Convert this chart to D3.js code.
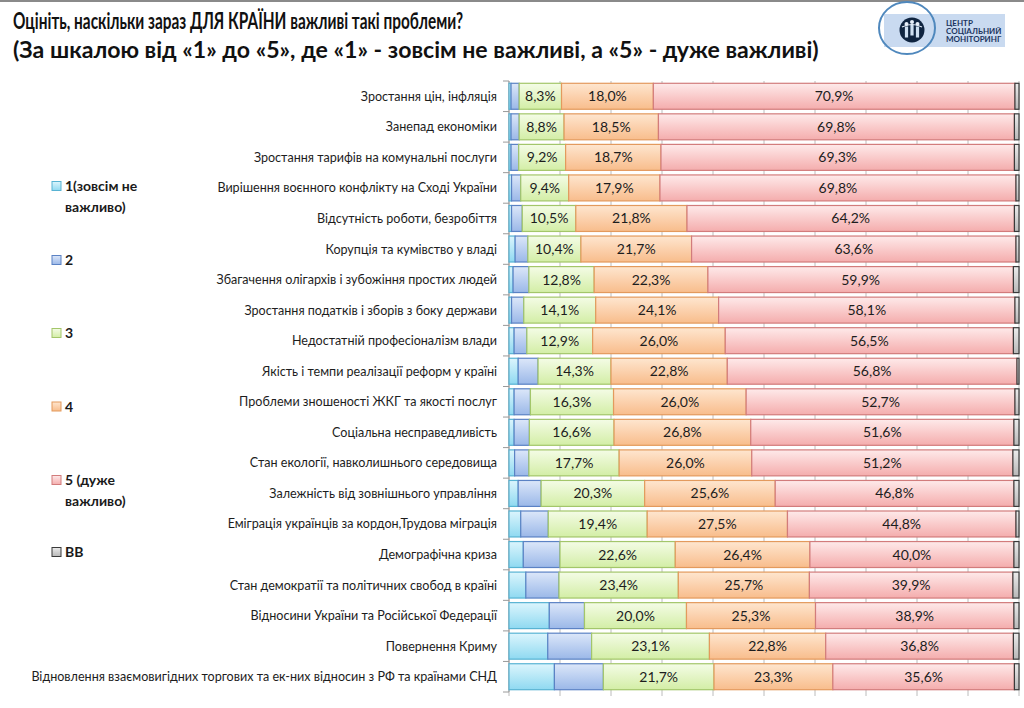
<!DOCTYPE html>
<html><head><meta charset="utf-8">
<script src="https://cdn.jsdelivr.net/npm/d3@7"></script>
<style>body{margin:0;background:#fff}svg{display:block}</style>
</head><body>
<script>
const categories = [
  "Зростання цін, інфляція",
  "Занепад економіки",
  "Зростання тарифів на комунальні послуги",
  "Вирішення воєнного конфлікту на Сході України",
  "Відсутність роботи, безробіття",
  "Корупція та кумівство у владі",
  "Збагачення олігархів і зубожіння простих людей",
  "Зростання податків і зборів з боку держави",
  "Недостатній професіоналізм влади",
  "Якість і темпи реалізації реформ у країні",
  "Проблеми зношеності ЖКГ та якості послуг",
  "Соціальна несправедливість",
  "Стан екології, навколишнього середовища",
  "Залежність від зовнішнього управління",
  "Еміграція українців за кордон,Трудова міграція",
  "Демографічна криза",
  "Стан демократії та політичних свобод в країні",
  "Відносини України та Російської Федерації",
  "Повернення Криму",
  "Відновлення взаємовигідних торгових та ек-них відносин з РФ та країнами СНД"
];
const seriesNames = ["1(зовсім не важливо)", "2", "3", "4", "5 (дуже важливо)", "ВВ"];
const v1 = [0.4,0.4,0.4,0.5,0.5,1.2,0.8,0.5,1.0,1.8,1.0,1.0,1.1,1.8,2.3,2.8,3.3,7.9,7.6,8.9];
const v2 = [1.6,1.6,1.5,1.8,2.1,2.5,3.1,2.4,2.5,3.9,3.2,3.0,2.8,4.5,5.4,7.2,6.5,6.9,8.6,9.6];
const v3 = [8.3,8.8,9.2,9.4,10.5,10.4,12.8,14.1,12.9,14.3,16.3,16.6,17.7,20.3,19.4,22.6,23.4,20.0,23.1,21.7];
const v4 = [18.0,18.5,18.7,17.9,21.8,21.7,22.3,24.1,26.0,22.8,26.0,26.8,26.0,25.6,27.5,26.4,25.7,25.3,22.8,23.3];
const v5 = [70.9,69.8,69.3,69.8,64.2,63.6,59.9,58.1,56.5,56.8,52.7,51.6,51.2,46.8,44.8,40.0,39.9,38.9,36.8,35.6];
const vv = [0.8,0.9,0.9,0.6,0.9,0.6,1.1,0.8,1.1,0.4,0.8,1.0,1.2,1.0,0.6,1.0,1.2,1.0,1.1,0.9];
const labelledSeries = ["3","4","5 (дуже важливо)"];
const titleLines = [
  "Оцініть, наскільки зараз ДЛЯ КРАЇНИ важливі такі проблеми?",
  "(За шкалою від «1» до «5», де «1» - зовсім не важливі, а «5» - дуже важливі)"
];
const legendLines = [["1(зовсім не","важливо)"],["2"],["3"],["4"],["5 (дуже","важливо)"],["ВВ"]];
const logoLines = ["ЦЕНТР","СОЦІАЛЬНИЙ","МОНІТОРИНГ"];

const colors = [
  {top:"#dcf5fd", bot:"#8fd9f1", stroke:"#58b3d3"},
  {top:"#dce7f9", bot:"#9bb8e8", stroke:"#5b82c4"},
  {top:"#f4fce6", bot:"#d3eea6", stroke:"#a3c66a"},
  {top:"#fee6cf", bot:"#f8bd8c", stroke:"#e39a5d"},
  {top:"#feeaea", bot:"#f4adad", stroke:"#d27c7c"},
  {top:"#ececec", bot:"#b8b8b8", stroke:"#3a3a3a"}
];

const W = 1024, H = 708;
const svg = d3.select("body").append("svg").attr("width", W).attr("height", H)
  .style("font-family", "Lato, 'Open Sans', sans-serif");
const defs = svg.append("defs");
colors.forEach((c, i) => {
  const g = defs.append("linearGradient").attr("id", "g" + i)
    .attr("x1", 0).attr("y1", 0).attr("x2", 0).attr("y2", 1);
  g.append("stop").attr("offset", "0%").attr("stop-color", c.top);
  g.append("stop").attr("offset", "55%").attr("stop-color", d3.interpolateRgb(c.top, c.bot)(0.55));
  g.append("stop").attr("offset", "100%").attr("stop-color", c.bot);
});

// top border line
svg.append("rect").attr("x", 0).attr("y", 0).attr("width", W).attr("height", 2).attr("fill", "#8a8a8a");

// Title
const t2 = svg.append("text").attr("x", 13).attr("y", 58).attr("font-size", 21)
  .attr("font-weight", "bold").attr("fill", "#111").text(titleLines[1]);
const len2 = t2.node().getComputedTextLength();
const titleSize = +(21 * 806 / len2).toFixed(2);
t2.attr("font-size", titleSize);
svg.append("text").attr("x", 13).attr("y", 29).attr("font-size", titleSize)
  .attr("font-weight", "bold").attr("fill", "#111")
  .attr("textLength", 450).attr("lengthAdjust", "spacingAndGlyphs").text(titleLines[0]);

// Logo
const logo = svg.append("g");
logo.append("rect").attr("x", 884).attr("y", 14).attr("width", 121).attr("height", 33).attr("fill", "#c9daf0");
logo.append("ellipse").attr("cx", 907).attr("cy", 28).attr("rx", 28).attr("ry", 26)
  .attr("fill", "none").attr("stroke", "#4f88bd").attr("stroke-width", 2);
logo.append("circle").attr("cx", 912).attr("cy", 30).attr("r", 12.5).attr("fill", "#0f2440");
[[-5.5, -1], [0, -3], [5.5, -1]].forEach(([dx, dy]) => {
  logo.append("circle").attr("cx", 912 + dx).attr("cy", 30 + dy - 5).attr("r", 2).attr("fill", "#e8f0fa");
  logo.append("rect").attr("x", 912 + dx - 1.6).attr("y", 30 + dy - 2.5).attr("width", 3.2).attr("height", 11)
    .attr("fill", "#cfe0f2");
});
logo.append("path").attr("d", "M902,27 Q912,22 922,27").attr("fill", "none").attr("stroke", "#e8f0fa").attr("stroke-width", 1.2);
logoLines.forEach((l, i) => {
  logo.append("text").attr("x", 946).attr("y", 26 + i * 8.2).attr("font-size", 8)
    .attr("font-weight", "bold").attr("fill", "#1b3560").text(l);
});

// Scales
const x = d3.scaleLinear().domain([0, 100]).range([509, 1019]);
const y = d3.scaleBand().domain(categories).range([81, 692]).paddingInner(0.15).paddingOuter(0.075);

// gridlines
const g = svg.append("g");
g.selectAll("line.grid").data(x.ticks(10)).join("line").attr("class", "grid")
  .attr("x1", d => x(d)).attr("x2", d => x(d)).attr("y1", 81).attr("y2", 696)
  .attr("stroke", "#bcbcbc").attr("stroke-width", 1);
// category axis
g.append("line").attr("x1", 509).attr("x2", 509).attr("y1", 81).attr("y2", 692).attr("stroke", "#9a9a9a");
const step = y.step();
g.selectAll("line.ctick").data(d3.range(categories.length + 1)).join("line").attr("class", "ctick")
  .attr("x1", 503).attr("x2", 509)
  .attr("y1", i => 81 + i * step).attr("y2", i => 81 + i * step).attr("stroke", "#9a9a9a");

// data
const rows = categories.map((c, i) => ({
  cat: c,
  [seriesNames[0]]: v1[i], [seriesNames[1]]: v2[i], [seriesNames[2]]: v3[i],
  [seriesNames[3]]: v4[i], [seriesNames[4]]: v5[i], [seriesNames[5]]: vv[i]
}));
const stack = d3.stack().keys(seriesNames)(rows);

const layers = svg.append("g").selectAll("g").data(stack).join("g")
  .attr("fill", (d, i) => `url(#g${i})`).attr("stroke", (d, i) => colors[i].stroke);
layers.selectAll("rect").data(d => d).join("rect")
  .attr("x", d => x(d[0])).attr("width", d => Math.max(0, x(d[1]) - x(d[0])))
  .attr("y", d => y(d.data.cat)).attr("height", y.bandwidth())
  .attr("stroke-width", 1.2);

// value labels
const fmt = v => v.toFixed(1).replace(".", ",") + "%";
stack.filter(s => labelledSeries.includes(s.key)).forEach(s => {
  svg.append("g").selectAll("text").data(s).join("text")
    .attr("x", d => (x(d[0]) + x(d[1])) / 2)
    .attr("y", d => y(d.data.cat) + y.bandwidth() / 2 + 5)
    .attr("text-anchor", "middle").attr("font-size", 14).attr("fill", "#1d1d1d")
    .text(d => fmt(d[1] - d[0]));
});

// category labels
const labs = svg.append("g").selectAll("text").data(categories).join("text")
  .attr("x", 497).attr("y", d => y(d) + y.bandwidth() / 2 + 4.5)
  .attr("text-anchor", "end").attr("font-size", 12.5).attr("fill", "#1d1d1d").text(d => d);
const longest = labs.filter((d, i) => i === categories.length - 1);
const len = longest.node().getComputedTextLength();
labs.attr("font-size", (12.5 * 466 / len).toFixed(2));

// legend
const legY = [186, 260, 333, 406.5, 480, 552];
legendLines.forEach((lines, i) => {
  const lg = svg.append("g");
  lg.append("rect").attr("x", 52).attr("y", legY[i] - 4.5).attr("width", 9).attr("height", 9)
    .attr("fill", `url(#g${i})`).attr("stroke", colors[i].stroke);
  lines.forEach((l, j) => {
    lg.append("text").attr("x", 65).attr("y", legY[i] + 5 + j * 21).attr("font-size", 14)
      .attr("font-weight", "bold").attr("fill", "#1a1a1a").text(l);
  });
});
</script>
</body></html>
